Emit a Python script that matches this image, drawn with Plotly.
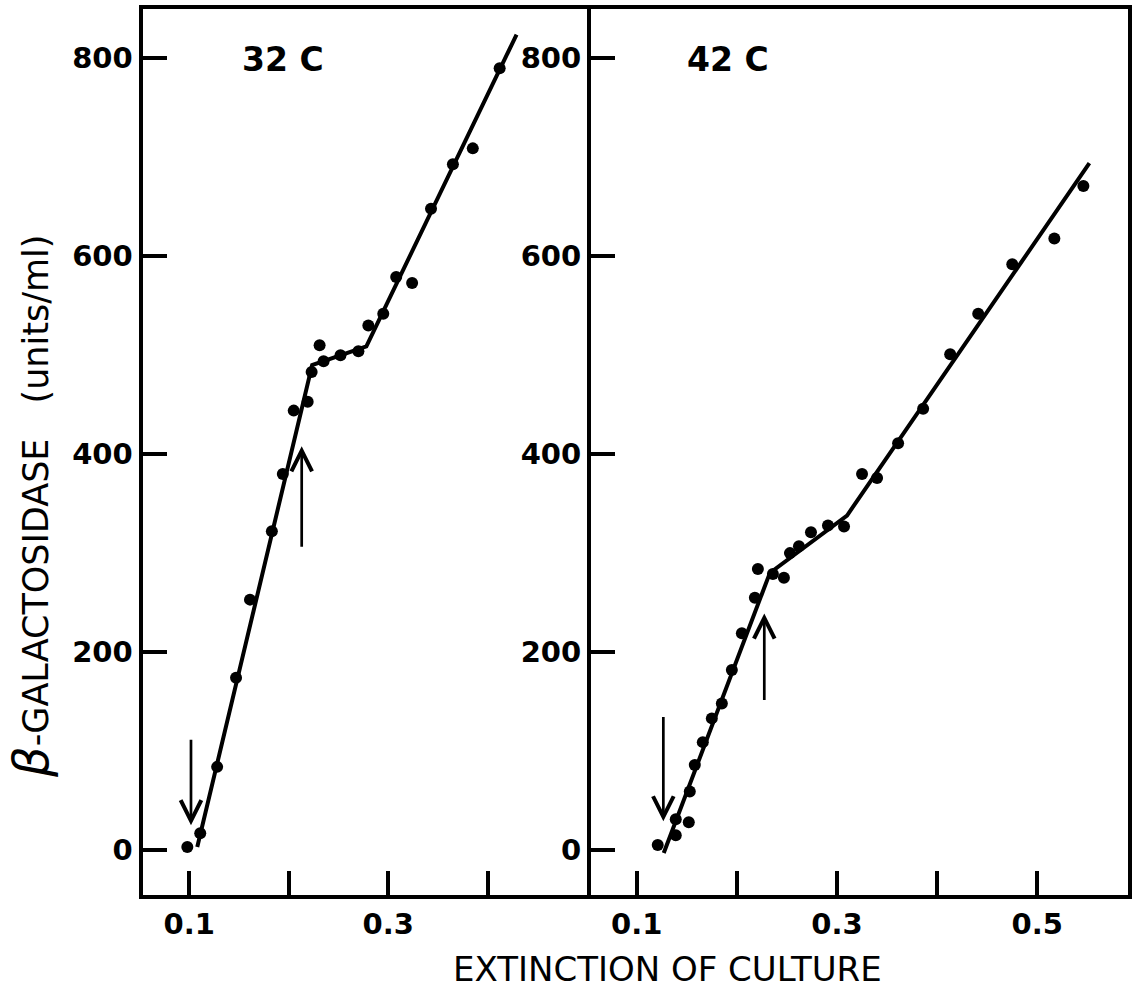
import plotly.graph_objects as go

# ---------------- data ----------------
# 32 C panel
ext_32 = [0.098, 0.111, 0.128, 0.147, 0.161, 0.183, 0.194, 0.205, 0.219, 0.223, 0.231,
          0.235, 0.252, 0.270, 0.280, 0.295, 0.308, 0.324, 0.343, 0.365, 0.385, 0.412]
gal_32 = [3, 17, 84, 174, 253, 322, 380, 444, 453, 483, 510,
          494, 500, 504, 530, 542, 579, 573, 648, 693, 709, 790]
fit_32_x = [0.108, 0.2235, 0.278, 0.429]
fit_32_y = [3, 490, 509, 824]

# 42 C panel
ext_42 = [0.121, 0.139, 0.139, 0.152, 0.153, 0.158, 0.166, 0.175, 0.185, 0.195, 0.205,
          0.218, 0.221, 0.236, 0.247, 0.253, 0.262, 0.274, 0.291, 0.307, 0.325, 0.340,
          0.361, 0.386, 0.413, 0.441, 0.475, 0.517, 0.546]
gal_42 = [5, 15, 31, 28, 59, 86, 109, 133, 148, 182, 219,
          255, 284, 279, 275, 300, 307, 321, 328, 327, 380, 376,
          411, 446, 501, 542, 592, 618, 671]
fit_42_x = [0.127, 0.233, 0.310, 0.552]
fit_42_y = [-3, 280, 338, 694]

# arrows: (x, tail value, tip value)
arrows_32 = [(0.1017, 113, 25), (0.213, 305, 408)]
arrows_42 = [(0.1266, 136, 29), (0.2274, 150, 239)]

panel_titles = ["32 C", "42 C"]
x_ticks_32 = [0.1, 0.2, 0.3, 0.4]
x_text_32 = ["0.1", "", "0.3", ""]
x_ticks_42 = [0.1, 0.2, 0.3, 0.4, 0.5]
x_text_42 = ["0.1", "", "0.3", "", "0.5"]
y_ticks = [0, 200, 400, 600, 800]
y_text = ["0", "200", "400", "600", "800"]

x_title = "EXTINCTION OF CULTURE"
y_title = ("<span style='font-size:48px'><i>β</i></span>-GALACTOSIDASE"
           "\u2002\u2002(units/ml)")

# ---------------- figure ----------------
W, H = 1136, 990
FONT = "DejaVu Sans"

fig = go.Figure()
for xs, ys, fx, fy, xa, ya in [(ext_32, gal_32, fit_32_x, fit_32_y, "x", "y"),
                               (ext_42, gal_42, fit_42_x, fit_42_y, "x2", "y2")]:
    fig.add_trace(go.Scatter(x=fx, y=fy, mode="lines",
                             line=dict(color="black", width=4),
                             xaxis=xa, yaxis=ya, showlegend=False, hoverinfo="skip"))
    fig.add_trace(go.Scatter(x=xs, y=ys, mode="markers",
                             marker=dict(color="black", size=12),
                             xaxis=xa, yaxis=ya, showlegend=False))

def px_x(p):
    return p / W

def px_y(p):
    return 1 - p / H

common_axis = dict(showline=True, linecolor="black", linewidth=4, mirror=True,
                   ticks="inside", tickcolor="black", tickwidth=4, ticklen=24,
                   showgrid=False, zeroline=False,
                   tickfont=dict(family=FONT, size=29, color="black", weight="bold"))

ydom = [px_y(895), px_y(9)]
yrange = [(850 - 895) / 0.9896, (850 - 9) / 0.9896]

fig.update_layout(
    width=W, height=H, margin=dict(l=0, r=0, t=0, b=0),
    paper_bgcolor="white", plot_bgcolor="white",
    xaxis=dict(domain=[px_x(142.5), px_x(587)], range=[0.05295, 0.49982],
               tickmode="array", tickvals=x_ticks_32, ticktext=x_text_32,
               anchor="y", **common_axis),
    yaxis=dict(domain=ydom, range=yrange, tickmode="array",
               tickvals=y_ticks, ticktext=y_text, anchor="x", **common_axis),
    xaxis2=dict(domain=[px_x(591), px_x(1128)], range=[0.05437, 0.59055],
                tickmode="array", tickvals=x_ticks_42, ticktext=x_text_42,
                anchor="y2", **common_axis),
    yaxis2=dict(domain=ydom, range=yrange, tickmode="array",
                tickvals=y_ticks, ticktext=y_text, anchor="x2", **common_axis),
)

annotations = []
for title, xr, yr, tx in [(panel_titles[0], "x", "y", 0.151),
                          (panel_titles[1], "x2", "y2", 0.148)]:
    annotations.append(dict(text=title, x=tx, y=799, xref=xr, yref=yr,
                            xanchor="left", yanchor="middle", showarrow=False,
                            font=dict(family=FONT, size=33, color="black", weight="bold")))

for arrs, xr, yr in [(arrows_32, "x", "y"), (arrows_42, "x2", "y2")]:
    for ax_, tail, tip in arrs:
        annotations.append(dict(text="", x=ax_, y=tip, ax=ax_, ay=tail,
                                xref=xr, yref=yr, axref=xr, ayref=yr,
                                showarrow=True, arrowhead=5, arrowsize=1.5,
                                arrowwidth=2.7, arrowcolor="black", standoff=0))

annotations.append(dict(text=x_title, x=px_x(667), y=px_y(969), xref="paper", yref="paper",
                        xanchor="center", yanchor="middle", showarrow=False,
                        font=dict(family=FONT, size=34, color="black")))
annotations.append(dict(text=y_title, x=px_x(31), y=px_y(507), xref="paper", yref="paper",
                        xanchor="center", yanchor="middle", showarrow=False, textangle=-90,
                        font=dict(family=FONT, size=35, color="black")))

fig.update_layout(annotations=annotations)
fig.write_html("out.html")
